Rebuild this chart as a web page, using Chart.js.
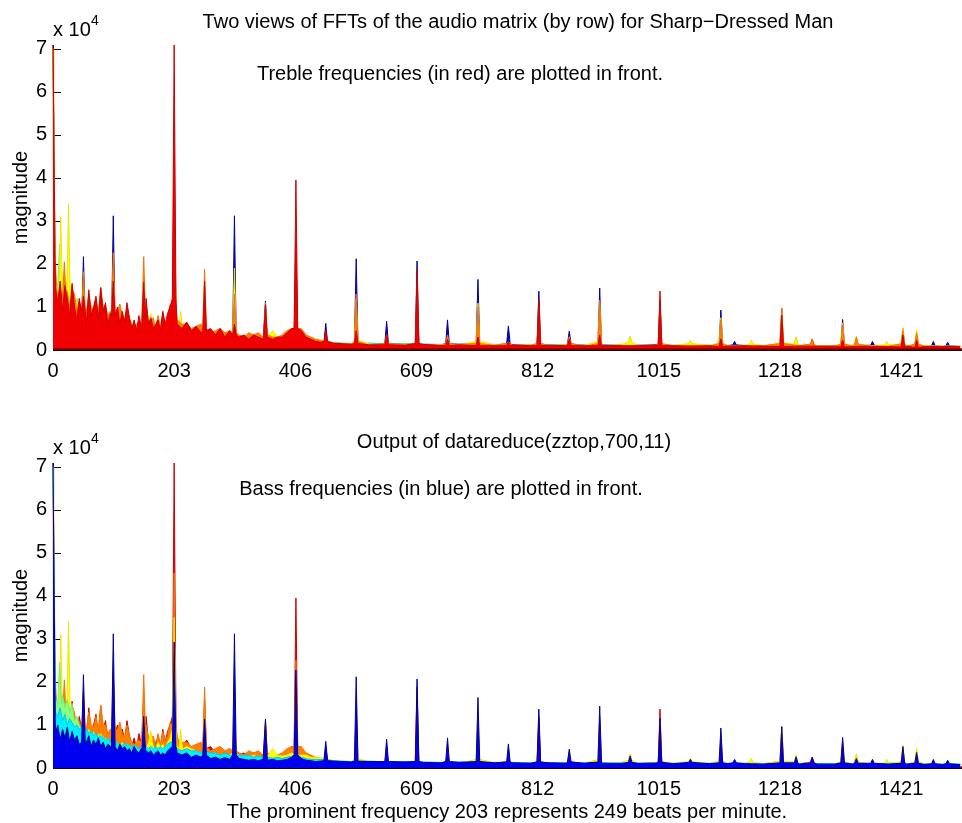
<!DOCTYPE html>
<html><head><meta charset="utf-8">
<script src="https://cdn.jsdelivr.net/npm/chart.js@4/dist/chart.umd.min.js"></script>
<style>
html,body{margin:0;padding:0;background:#fff;}
#wrap{position:relative;width:962px;height:823px;overflow:hidden;}
#top{position:absolute;left:0;top:0;}
#bot{position:absolute;left:0;top:411px;}
</style></head><body>
<div id="wrap">
<canvas id="top" width="962" height="411"></canvas>
<canvas id="bot" width="962" height="412"></canvas>
</div>
<script>
// ---------- data (magnitudes in units of 10^4) ----------
const xTicks = [0,203,406,609,812,1015,1218,1421];
const yTicks = [0,1,2,3,4,5,6,7];

// frequency bins sampled for the noise floor
const lowX  = [0,4,8,12,16,20,24,28,32,36,40,44,48,52,56,60,64,68,72,76,80,84,88,92,96,100,104,108,112,116,120,124,128,132,136,140,144,148,152,156,160,164,168,172,176,180,184,188,192,196,200];
const midX  = [208,216,224,232,240,248,256,264,272,280,288,296,304,312,320,328,336,344,352,360,368,376,384,392,400,408,416,424,432,440,448];
const highX = [470,500,530,560,590,620,650,680,710,740,770,800,830,860,890,920,950,980,1010,1040,1070,1100,1130,1160,1190,1220,1250,1280,1310,1340,1370,1400,1430,1460,1490,1520];

const redLow = [7.1,1.45,1.1,1.6,0.9,1.5,1.2,0.8,1.55,1.0, 0.7,1.2,0.9,1.1,0.6,1.4,0.8,1.0,1.25,0.7, 1.45,0.9,1.1,0.6,0.85,0.9,0.75,1.0,0.6,0.9, 0.65,1.1,0.75,0.5,0.7,0.45,0.8,0.55,0.8,1.2, 0.6,0.75,0.5,0.6,0.7,0.45,0.9,0.6,0.85,1.0, 0.8];
const redMid = [0.6,0.5,0.65,0.45,0.55,0.4,0.5,0.5,0.35,0.5, 0.3,0.45,0.4,0.3,0.35,0.25,0.35,0.3,0.25,0.3, 0.25,0.3,0.3,0.4,0.5,0.5,0.45,0.3,0.25,0.2, 0.18];
const redHigh = [0.16,0.13,0.12,0.14,0.11,0.13,0.11,0.12,0.11,0.1, 0.12,0.1,0.11,0.1,0.1,0.11,0.1,0.1,0.12,0.1, 0.09,0.1,0.09,0.1,0.09,0.11,0.09,0.09,0.09,0.08, 0.09,0.08,0.09,0.08,0.08,0.08];
const redPeaks = [[51,1.25,0.9],[101,1.6,0.8],[152,1.57,0.7],[203,7.09,1.2],[254,1.6,0.45],[304,0.6,0.35],[356,1.05,0.3],[407,3.95,0.5],[457,0.47,0.2],[508,0.45,0.15],[559,0.37,0.12],[610,1.88,0.15],[661,0.25,0.1],[712,0.3,0.1],[763,0.2,0.1],[814,1.19,0.1],[865,0.25,0.1],[916,0.35,0.1],[1017,1.37,0.1],[1119,0.26,0.08],[1221,0.81,0.08],[1323,0.23,0.07],[1424,0.35,0.07],[1447,0.23,0.06]];

const orangeLow = [7.0,1.2,1.3,1.45,1.1,1.0,1.35,1.0,1.4,1.3, 0.9,1.1,1.1,1.0,0.9,1.3,1.0,0.95,1.2,0.9, 1.45,1.0,1.0,0.8,0.9,0.9,0.8,0.9,1.07,0.8, 0.7,1.0,0.75,0.6,0.55,0.6,0.65,0.6,0.8,1.0, 0.7,0.65,0.75,0.5,0.8,0.55,0.85,0.6,0.75,1.05, 0.9];
const orangeMid = [0.7,0.6,0.6,0.5,0.55,0.6,0.45,0.4,0.45,0.5, 0.4,0.45,0.35,0.35,0.3,0.4,0.35,0.4,0.3,0.35, 0.3,0.3,0.35,0.45,0.5,0.5,0.5,0.35,0.3,0.25, 0.22];
const orangeHigh = [0.15,0.14,0.11,0.13,0.12,0.12,0.1,0.13,0.1,0.11, 0.1,0.11,0.1,0.11,0.09,0.1,0.11,0.09,0.11,0.09, 0.1,0.09,0.1,0.09,0.1,0.09,0.1,0.08,0.09,0.09, 0.08,0.09,0.08,0.09,0.08,0.08];
const orangePeaks = [[4,2.05,1.2],[19,2.05,1.2],[51,1.82,0.9],[101,2.26,0.9],[152,2.17,0.8],[203,4.53,1.0],[254,1.88,0.5],[304,1.3,0.4],[356,1.1,0.35],[407,2.5,0.5],[457,0.3,0.2],[508,1.3,0.2],[559,0.37,0.15],[610,1.5,0.15],[661,0.35,0.15],[712,1.0,0.15],[763,0.2,0.15],[814,1.0,0.15],[865,0.31,0.15],[916,1.16,0.15],[1017,1.1,0.15],[1119,0.7,0.15],[1221,0.97,0.15],[1272,0.26,0.14],[1323,0.6,0.14],[1346,0.3,0.14],[1424,0.45,0.14],[1447,0.4,0.14]];

const yellowLow = [7.0,1.1,1.4,1.2,1.3,1.5,1.2,1.4,1.2,1.0, 1.1,0.8,0.9,0.7,0.8,0.9,0.7,0.8,0.6,0.7, 0.8,0.6,0.7,0.6,0.5,0.6,0.5,0.6,0.5,0.6, 0.5,0.4,0.55,0.45,0.5,0.4,0.45,0.4,0.5,0.45, 0.6,0.85,0.5,0.45,0.6,0.5,0.55,0.45,0.6,0.7, 0.8];
const yellowMid = [0.5,0.55,0.5,0.45,0.4,0.35,0.35,0.3,0.35,0.3, 0.3,0.3,0.3,0.28,0.3,0.25,0.3,0.25,0.25,0.3, 0.45,0.3,0.28,0.3,0.35,0.3,0.3,0.3,0.25,0.25, 0.24];
const yellowHigh = [0.17,0.12,0.14,0.12,0.14,0.11,0.13,0.11,0.12,0.12, 0.11,0.12,0.11,0.12,0.11,0.1,0.12,0.1,0.11,0.11, 0.1,0.11,0.1,0.11,0.1,0.1,0.11,0.1,0.1,0.1, 0.1,0.1,0.09,0.1,0.09,0.09];
const yellowPeaks = [[13,3.1,1.2],[26,3.4,1.2],[203,3.5,0.9],[214,0.9,0.45],[304,1.9,0.35],[508,1.2,0.22],[712,1.09,0.2],[916,1.1,0.2],[967,0.33,0.18],[1068,0.23,0.15],[1119,0.75,0.16],[1170,0.23,0.14],[1221,0.9,0.16],[1245,0.31,0.14],[1323,0.63,0.14],[1346,0.33,0.13],[1397,0.2,0.12],[1424,0.52,0.14],[1447,0.47,0.13]];

const greenLow = [7.0,1.6,1.9,1.5,1.7,1.4,1.6,1.3,1.5,1.1, 1.2,1.0,0.9,1.0,0.8,0.9,0.75,0.85,0.7,0.8, 0.7,0.75,0.6,0.7,0.6,0.6,0.55,0.6,0.5,0.55, 0.5,0.55,0.45,0.5,0.45,0.45,0.4,0.45,0.4,0.45, 0.4,0.4,0.35,0.4,0.35,0.4,0.35,0.4,0.35,0.4, 0.45];
const greenMid = [0.4,0.38,0.35,0.35,0.33,0.3,0.32,0.3,0.28,0.3, 0.27,0.28,0.25,0.26,0.25,0.24,0.25,0.23,0.24,0.22, 0.23,0.22,0.21,0.22,0.25,0.24,0.22,0.2,0.2,0.19, 0.19];
const greenHigh = [0.14,0.13,0.12,0.12,0.12,0.11,0.11,0.11,0.1,0.1, 0.1,0.1,0.1,0.1,0.09,0.09,0.09,0.09,0.09,0.09, 0.09,0.08,0.08,0.08,0.08,0.08,0.08,0.08,0.08,0.08, 0.07,0.07,0.07,0.07,0.07,0.07];
const greenPeaks = [[11,2.45,1.5]];

const cyanLow = [7.0,1.3,1.2,1.4,1.1,1.25,1.0,1.15,1.05,0.95, 1.0,0.9,0.95,0.85,0.9,0.8,0.85,0.75,0.8,0.7, 0.75,0.7,0.65,0.7,0.6,0.65,0.55,0.6,0.55,0.5, 0.6,0.5,0.55,0.45,0.55,0.5,0.45,0.5,0.5,0.5, 0.45,0.5,0.45,0.5,0.45,0.5,0.45,0.5,0.55,0.6, 0.6];
const cyanMid = [0.45,0.4,0.45,0.4,0.4,0.35,0.4,0.35,0.35,0.3, 0.35,0.3,0.3,0.3,0.28,0.3,0.25,0.28,0.25,0.25, 0.22,0.25,0.22,0.25,0.28,0.3,0.25,0.22,0.2,0.2, 0.2];
const cyanHigh = [0.17,0.15,0.16,0.14,0.15,0.14,0.13,0.14,0.13,0.13, 0.13,0.12,0.13,0.12,0.12,0.12,0.12,0.11,0.12,0.11, 0.11,0.11,0.11,0.11,0.1,0.11,0.1,0.1,0.1,0.1, 0.1,0.1,0.1,0.09,0.09,0.09];
const cyanPeaks = [];

const blueLow = [7.1,0.8,1.0,0.65,0.9,0.7,0.95,0.6,0.85,0.65, 0.75,0.55,0.7,0.6,0.6,0.75,0.5,0.65,0.55,0.7, 0.5,0.6,0.45,0.55,0.5,0.5,0.5,0.4,0.55,0.45, 0.5,0.4,0.45,0.35,0.5,0.4,0.35,0.45,0.4,0.4, 0.35,0.4,0.3,0.35,0.4,0.3,0.35,0.3,0.4,0.45, 0.5];
const blueMid = [0.35,0.3,0.35,0.25,0.3,0.25,0.28,0.22,0.25,0.2, 0.24,0.2,0.2,0.22,0.2,0.18,0.2,0.17,0.2,0.18, 0.2,0.17,0.18,0.2,0.25,0.25,0.22,0.18,0.17,0.15, 0.16];
const blueHigh = [0.16,0.14,0.15,0.13,0.14,0.13,0.12,0.13,0.12,0.12, 0.12,0.11,0.12,0.11,0.11,0.11,0.1,0.11,0.11,0.1, 0.1,0.1,0.1,0.1,0.09,0.1,0.09,0.09,0.09,0.09, 0.09,0.09,0.09,0.08,0.08,0.08];
const bluePeaks = [[51,2.17,0.6],[101,3.12,0.5],[152,1.2,0.4],[203,2.93,0.5],[254,1.14,0.3],[304,3.12,0.3],[356,1.14,0.2],[407,2.28,0.3],[457,0.62,0.17],[508,2.12,0.16],[559,0.67,0.15],[610,2.07,0.15],[661,0.7,0.15],[712,1.64,0.15],[763,0.56,0.14],[814,1.37,0.14],[865,0.44,0.14],[916,1.44,0.14],[967,0.28,0.13],[1017,1.15,0.13],[1068,0.2,0.13],[1119,0.93,0.12],[1142,0.2,0.12],[1221,0.96,0.12],[1245,0.26,0.12],[1272,0.25,0.12],[1323,0.71,0.12],[1346,0.22,0.11],[1373,0.2,0.11],[1424,0.5,0.11],[1447,0.36,0.11],[1475,0.2,0.1],[1499,0.18,0.1]];

const darkRedX = [0,1523];
const darkRedY = [0.02,0.02];

// ---------- build ----------
const binX = lowX.concat(midX, highX);
const PEAK_HALF = 3;
function build(values, peaks) {
  const pts = [];
  binX.forEach((x, i) => {
    if (!peaks.some(p => Math.abs(p[0] - x) <= PEAK_HALF + 0.5)) pts.push({x: x, y: values[i]});
  });
  peaks.forEach(p => {
    pts.push({x: Math.max(0, p[0] - PEAK_HALF), y: p[2]}, {x: p[0], y: p[1]}, {x: p[0] + PEAK_HALF, y: p[2]});
  });
  pts.sort((a, b) => a.x - b.x);
  return pts;
}
const SERIES = {
  darkred: {data: darkRedX.map((x,i)=>({x:x,y:darkRedY[i]})), line:'rgb(128,0,0)', fill:false, bw:2},
  red:    {data: build(redLow.concat(redMid, redHigh), redPeaks), line:'rgb(205,0,0)', fill:'rgb(240,0,0)'},
  orange: {data: build(orangeLow.concat(orangeMid, orangeHigh), orangePeaks), line:'rgb(245,115,0)', fill:'rgb(255,128,0)'},
  yellow: {data: build(yellowLow.concat(yellowMid, yellowHigh), yellowPeaks), line:'rgb(240,230,0)', fill:'rgb(255,255,0)'},
  green:  {data: build(greenLow.concat(greenMid, greenHigh), greenPeaks), line:'rgb(120,235,110)', fill:'rgb(140,255,130)'},
  cyan:   {data: build(cyanLow.concat(cyanMid, cyanHigh), cyanPeaks), line:'rgb(0,200,235)', fill:'rgb(0,240,255)'},
  blue:   {data: build(blueLow.concat(blueMid, blueHigh), bluePeaks), line:'rgb(0,0,150)', fill:'rgb(0,0,240)'}
};

// ---------- drawing ----------
Chart.defaults.font.family = '"Liberation Sans", Arial, Helvetica, sans-serif';
Chart.defaults.color = '#000';

function decor(texts) {
  return {
    id: 'decor',
    beforeDatasetsDraw(chart) {
      // inward tick marks, drawn beneath the data (axes layer at bottom)
      const ctx = chart.ctx, a = chart.chartArea;
      const xs = chart.scales.x, ys = chart.scales.y;
      ctx.save();
      ctx.strokeStyle = '#000'; ctx.lineWidth = 1;
      ctx.beginPath();
      yTicks.forEach(v => { const y = Math.round(ys.getPixelForValue(v)) + 0.5; ctx.moveTo(a.left, y); ctx.lineTo(a.left + 8, y); });
      xTicks.forEach(v => { const x = Math.round(xs.getPixelForValue(v)) + 0.5; ctx.moveTo(x, a.bottom); ctx.lineTo(x, a.bottom - 8); });
      ctx.stroke();
      ctx.restore();
    },
    afterDraw(chart) {
      const ctx = chart.ctx, a = chart.chartArea;
      ctx.save();
      ctx.fillStyle = '#000';
      ctx.font = '20px "Liberation Sans", Arial, sans-serif';
      ctx.textBaseline = 'alphabetic';
      ctx.textAlign = 'center';
      texts.forEach(t => ctx.fillText(t.text, t.x, t.y));
      // exponent label
      ctx.textAlign = 'left';
      ctx.fillText('x 10', a.left, a.top - 9);
      ctx.font = '14px "Liberation Sans", Arial, sans-serif';
      ctx.fillText('4', a.left + 38, a.top - 20);
      // y label
      ctx.font = '20px "Liberation Sans", Arial, sans-serif';
      ctx.translate(27, (a.top + a.bottom) / 2);
      ctx.rotate(-Math.PI / 2);
      ctx.textAlign = 'center';
      ctx.fillText('magnitude', 0, 0);
      ctx.restore();
    }
  };
}

function makeChart(id, order, texts, padTop, xAxisH) {
  return new Chart(document.getElementById(id), {
    type: 'line',
    data: {
      datasets: order.map(k => {
        const s = SERIES[k];
        return {
          label: k, data: s.data,
          borderColor: s.line, backgroundColor: s.fill || 'transparent',
          fill: s.fill ? 'origin' : false,
          borderWidth: s.bw || 1, pointRadius: 0, tension: 0,
          clip: {left: 3, top: 0, right: 0, bottom: 3}
        };
      })
    },
    options: {
      responsive: false, animation: false, events: [],
      layout: {padding: {top: padTop, left: 0, right: 0, bottom: 0}},
      plugins: {legend: {display: false}, tooltip: {enabled: false}, title: {display: false}},
      scales: {
        x: {
          type: 'linear', min: 0, max: 1523,
          afterBuildTicks: s => { s.ticks = xTicks.map(v => ({value: v})); },
          afterFit: s => { s.height = xAxisH; },
          grid: {display: false, drawTicks: false},
          border: {display: true, color: '#000', width: 1},
          ticks: {padding: 9, color: '#000', font: {size: 20}, maxRotation: 0, autoSkip: false, callback: v => String(v)}
        },
        y: {
          type: 'linear', min: 0, max: 7.09,
          afterBuildTicks: s => { s.ticks = yTicks.map(v => ({value: v})); },
          afterFit: s => { s.width = 53; },
          grid: {display: false, drawTicks: false},
          border: {display: true, color: '#000', width: 1},
          ticks: {padding: 6, color: '#000', font: {size: 20}, callback: v => String(v)}
        }
      }
    },
    plugins: [decor(texts)]
  });
}

// treble (red) in front on top panel; bass (blue) in front on bottom panel
makeChart('top', ['darkred','red','orange','yellow','green','cyan','blue'], [
  {text: 'Two views of FFTs of the audio matrix (by row) for Sharp\u2212Dressed Man', x: 518, y: 28},
  {text: 'Treble frequencies (in red) are plotted in front.', x: 460, y: 80}
], 45, 61);
makeChart('bot', ['blue','cyan','green','yellow','orange','red','darkred'], [
  {text: 'Output of datareduce(zztop,700,11)', x: 514, y: 36.5},
  {text: 'Bass frequencies (in blue) are plotted in front.', x: 441, y: 83.5},
  {text: 'The prominent frequency 203 represents 249 beats per minute.', x: 507, y: 406.5}
], 52, 55);
</script>
</body></html>
